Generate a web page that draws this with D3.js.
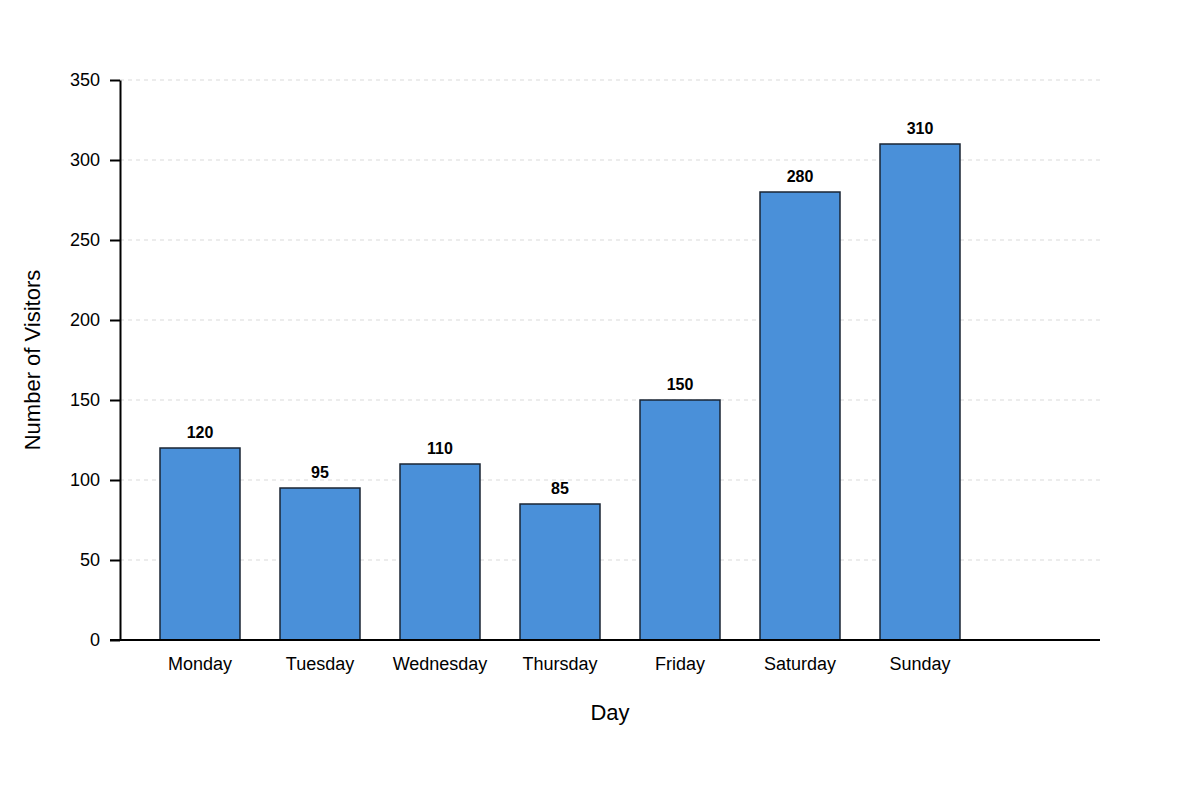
<!DOCTYPE html>
<html>
<head>
<meta charset="utf-8">
<script src="https://cdn.jsdelivr.net/npm/d3@7"></script>
<style>
  body { margin: 0; background: #fff; }
  svg { font-family: "Liberation Sans", Arial, sans-serif; }
</style>
</head>
<body>
<svg id="chart" width="1200" height="800"></svg>
<script>
// data
const days = ["Monday", "Tuesday", "Wednesday", "Thursday", "Friday", "Saturday", "Sunday"];
const visitors = [120, 95, 110, 85, 150, 280, 310];
const yTicks = [0, 50, 100, 150, 200, 250, 300, 350];

const margin = { top: 80, right: 100, bottom: 160, left: 120 };
const width = 1200 - margin.left - margin.right;
const height = 800 - margin.top - margin.bottom;

const svg = d3.select("#chart");
const g = svg.append("g").attr("transform", `translate(${margin.left},${margin.top})`);

// bands only cover part of the width, leaves empty room on the right
const x = d3.scaleBand()
  .domain(days)
  .range([0, 880])
  .paddingInner(1 / 3)
  .paddingOuter(1 / 3);

const y = d3.scaleLinear().domain([0, 350]).range([height, 0]);

// grid lines
g.append("g")
  .selectAll("line")
  .data(yTicks.filter(d => d > 0))
  .join("line")
  .attr("x1", 0)
  .attr("x2", width)
  .attr("y1", d => y(d))
  .attr("y2", d => y(d))
  .attr("stroke", "#d9d9d9")
  .attr("stroke-width", 1)
  .attr("stroke-dasharray", "4,4");

// bars
g.append("g")
  .selectAll("rect")
  .data(days)
  .join("rect")
  .attr("x", d => x(d))
  .attr("y", (d, i) => y(visitors[i]))
  .attr("width", x.bandwidth())
  .attr("height", (d, i) => height - y(visitors[i]))
  .attr("fill", "#4a90d9")
  .attr("stroke", "#1a2533")
  .attr("stroke-width", 1.5);

// value labels
g.append("g")
  .selectAll("text")
  .data(days)
  .join("text")
  .attr("x", d => x(d) + x.bandwidth() / 2)
  .attr("y", (d, i) => y(visitors[i]) - 10)
  .attr("text-anchor", "middle")
  .attr("font-size", 16)
  .attr("font-weight", "bold")
  .attr("fill", "#000")
  .text((d, i) => visitors[i]);

// y axis
const yAxis = g.append("g")
  .call(d3.axisLeft(y).tickValues(yTicks).tickSize(10).tickSizeOuter(0).tickPadding(10));
yAxis.select(".domain").attr("stroke", "#000").attr("stroke-width", 2);
yAxis.selectAll(".tick line").attr("stroke", "#000").attr("stroke-width", 2);
yAxis.selectAll(".tick text").attr("font-size", 18).attr("fill", "#000")
  .attr("font-family", "Liberation Sans, Arial, sans-serif");

// x axis, no tick marks, baseline across full width
const xAxis = g.append("g")
  .attr("transform", `translate(0,${height})`)
  .call(d3.axisBottom(x).tickSize(0).tickPadding(17));
xAxis.select(".domain").remove();
xAxis.selectAll(".tick text").attr("font-size", 18).attr("fill", "#000")
  .attr("font-family", "Liberation Sans, Arial, sans-serif");
g.append("line")
  .attr("x1", -10)
  .attr("x2", width)
  .attr("y1", height)
  .attr("y2", height)
  .attr("stroke", "#000")
  .attr("stroke-width", 2);

// axis titles
svg.append("text")
  .attr("x", margin.left + width / 2)
  .attr("y", 720)
  .attr("text-anchor", "middle")
  .attr("font-size", 22)
  .attr("fill", "#000")
  .text("Day");

svg.append("text")
  .attr("transform", `translate(40,${margin.top + height / 2}) rotate(-90)`)
  .attr("text-anchor", "middle")
  .attr("font-size", 22)
  .attr("fill", "#000")
  .text("Number of Visitors");
</script>
</body>
</html>
